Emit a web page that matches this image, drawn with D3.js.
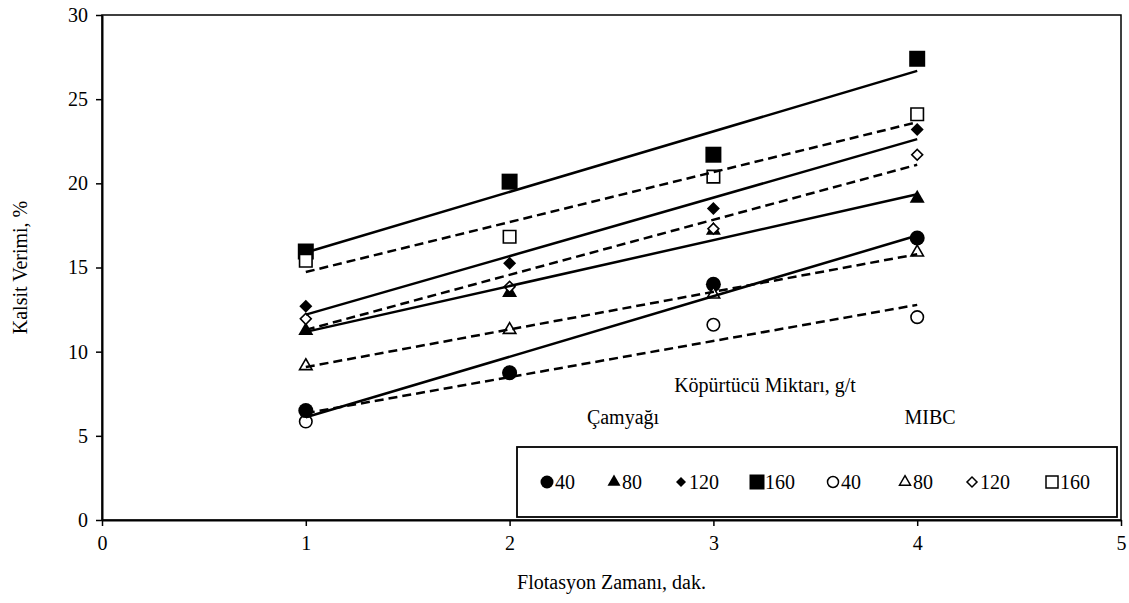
<!DOCTYPE html>
<html>
<head>
<meta charset="utf-8">
<script src="https://cdn.jsdelivr.net/npm/d3@7"></script>
<style>
  body { margin: 0; background: #fff; }
  svg text { font-family: "Times New Roman", Tinos, "Liberation Serif", "DejaVu Serif", "Noto Serif", FreeSerif, Times, serif; fill: #000; }
</style>
</head>
<body>
<div id="chart"></div>
<script>
// flotasyon zamani, dak.
const times = [1, 2, 3, 4];

// Camyagi (dolu isaretler)
const camyagi40 = [6.5, 8.75, 14.0, 16.75];
const camyagi80 = [11.25, 13.5, 17.2, 19.1];
const camyagi120 = [12.7, 15.25, 18.5, 23.2];
const camyagi160 = [15.95, 20.1, 21.7, 27.4];

// MIBC (bos isaretler)
const mibc40 = [5.85, 8.75, 11.6, 12.05];
const mibc80 = [9.15, 11.3, 13.4, 15.9];
const mibc120 = [11.95, 13.85, 17.3, 21.7];
const mibc160 = [15.4, 16.83, 20.4, 24.1];

const dosages = ["40", "80", "120", "160"];
const xTicks = [0, 1, 2, 3, 4, 5];
const yTicks = [0, 5, 10, 15, 20, 25, 30];

let camSeries = [
    {values: camyagi40, shape: "circle", filled: true, dash: null, size: 15},
    {values: camyagi80, shape: "triangle", filled: true, dash: null, size: 15},
    {values: camyagi120, shape: "diamond", filled: true, dash: null, size: 13},
    {values: camyagi160, shape: "square", filled: true, dash: null, size: 16}
];
let mibcSeries = [
    {values: mibc40, shape: "circle", filled: false, dash: "9,5", size: 14},
    {values: mibc80, shape: "triangle", filled: false, dash: "9,5", size: 14},
    {values: mibc120, shape: "diamond", filled: false, dash: "9,5", size: 13},
    {values: mibc160, shape: "square", filled: false, dash: "9,5", size: 14}
];
let legendSeries = camSeries.concat(mibcSeries);
// drawing order (later on top)
let drawOrder = [mibcSeries[0]].concat(camSeries, mibcSeries.slice(1));

let margin = {top: 15, right: 8, bottom: 83, left: 102};
let width = 1129, height = 603;
let w = width - margin.left - margin.right;
let h = height - margin.top - margin.bottom;

let svg = d3.select("#chart").append("svg")
    .attr("width", width)
    .attr("height", height);

let g = svg.append("g")
    .attr("transform", "translate(" + margin.left + "," + margin.top + ")");

let x = d3.scaleLinear().domain([0, 5]).range([0, w]);
let y = d3.scaleLinear().domain([0, 30]).range([h, 0]);

// frame
g.append("rect")
    .attr("x", 0).attr("y", 0)
    .attr("width", w).attr("height", h)
    .attr("fill", "none")
    .attr("stroke", "#000")
    .attr("stroke-width", 1.5);

let xAxis = g.append("g")
    .attr("transform", "translate(0," + h + ")")
    .call(d3.axisBottom(x).tickValues(xTicks).tickSize(6).tickSizeOuter(0).tickFormat(d3.format("d")));
let yAxis = g.append("g")
    .call(d3.axisLeft(y).tickValues(yTicks).tickSize(6).tickSizeOuter(0).tickFormat(d3.format("d")));

[xAxis, yAxis].forEach((a) => {
    a.attr("font-family", null).attr("font-size", 20);
    a.select(".domain").attr("stroke", "#000").attr("stroke-width", 2);
    a.selectAll(".tick line").attr("stroke", "#000").attr("stroke-width", 1.5);
    a.selectAll(".tick text").attr("fill", "#000");
});
xAxis.selectAll(".tick text").attr("dy", "1.05em");
yAxis.selectAll(".tick text").attr("x", -14);

// axis titles
svg.append("text")
    .attr("x", margin.left + x(2.5))
    .attr("y", 589)
    .attr("text-anchor", "middle")
    .attr("font-size", 20)
    .text("Flotasyon Zamanı, dak.");

svg.append("text")
    .attr("transform", "translate(27," + (margin.top + y(15)) + ") rotate(-90)")
    .attr("text-anchor", "middle")
    .attr("font-size", 20)
    .text("Kalsit Verimi, %");

function markerPath(shape, size) {
    if (shape === "circle") return d3.symbol(d3.symbolCircle, Math.PI * size * size / 4)();
    if (shape === "triangle") return d3.symbol(d3.symbolTriangle, size * size * Math.sqrt(3) / 4)();
    // square, diamond = rotated square
    return d3.symbol(d3.symbolSquare, size * size)();
}

function regression(xs, ys) {
    let mx = d3.mean(xs), my = d3.mean(ys);
    let num = d3.sum(xs, (v, i) => (v - mx) * (ys[i] - my));
    let den = d3.sum(xs, (v) => (v - mx) * (v - mx));
    let b = num / den;
    return {a: my - b * mx, b: b};
}

let line = d3.line()
    .x((d) => x(d[0]))
    .y((d) => y(d[1]));

// markers
drawOrder.forEach((s) => {
    let sz = s.shape === "diamond" ? s.size / Math.SQRT2 : s.size;
    g.selectAll(null)
        .data(times.map((t, i) => [t, s.values[i]]))
        .enter().append("path")
        .attr("d", markerPath(s.shape, s.filled ? sz : sz - 1.5))
        .attr("transform", (d) => "translate(" + x(d[0]) + "," + y(d[1]) + ")" + (s.shape === "diamond" ? " rotate(45)" : ""))
        .attr("fill", s.filled ? "#000" : "#fff")
        .attr("stroke", "#000")
        .attr("stroke-width", s.filled ? 0 : 1.6);
});

// trend lines
legendSeries.forEach((s) => {
    let r = regression(times, s.values);
    let ends = [times[0], times[times.length - 1]].map((t) => [t, r.a + r.b * t]);
    g.append("path")
        .attr("d", line(ends))
        .attr("fill", "none")
        .attr("stroke", "#000")
        .attr("stroke-width", 2.5)
        .attr("stroke-dasharray", s.dash);
});

// legend labels
svg.append("text").attr("x", 765).attr("y", 392)
    .attr("text-anchor", "middle").attr("font-size", 20)
    .text("Köpürtücü Miktarı,  g/t");
svg.append("text").attr("x", 623).attr("y", 424)
    .attr("text-anchor", "middle").attr("font-size", 20)
    .text("Çamyağı");
svg.append("text").attr("x", 930).attr("y", 424)
    .attr("text-anchor", "middle").attr("font-size", 20)
    .text("MIBC");

let legend = svg.append("g");
legend.append("rect")
    .attr("x", 517).attr("y", 447)
    .attr("width", 600).attr("height", 70)
    .attr("fill", "#fff")
    .attr("stroke", "#000")
    .attr("stroke-width", 1.8);

let legendX = [547, 614, 681, 757, 833, 905, 972, 1052];
legendSeries.forEach((s, i) => {
    let sz = s.shape === "diamond" ? 10 / Math.SQRT2 : (s.shape === "square" ? (s.filled ? 15 : 12) : (s.filled ? 13 : 11));
    legend.append("path")
        .attr("d", markerPath(s.shape, sz))
        .attr("transform", "translate(" + legendX[i] + ",482)" + (s.shape === "diamond" ? " rotate(45)" : ""))
        .attr("fill", s.filled ? "#000" : "#fff")
        .attr("stroke", "#000")
        .attr("stroke-width", s.filled ? 0 : 1.5);
    legend.append("text")
        .attr("x", legendX[i] + 8)
        .attr("y", 489)
        .attr("font-size", 20)
        .text(dosages[i % 4]);
});
</script>
</body>
</html>
